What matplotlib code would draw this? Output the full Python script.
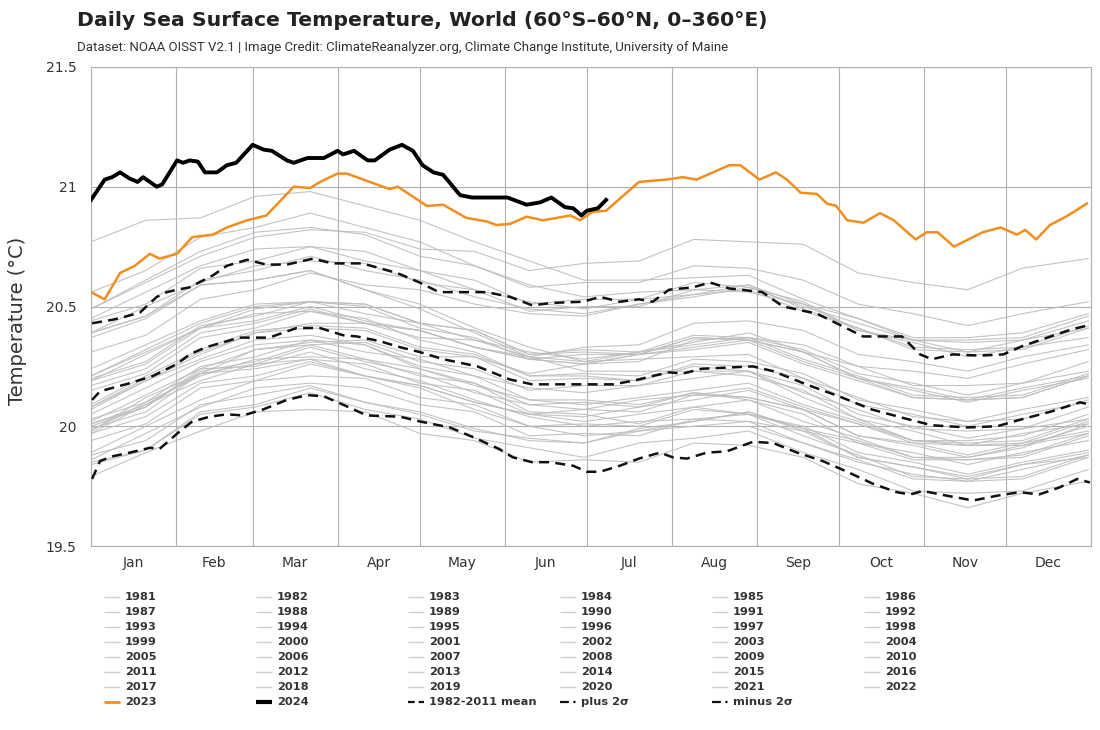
import numpy as np
import matplotlib
matplotlib.use('Agg')
import matplotlib.pyplot as plt
from matplotlib.lines import Line2D

nan = np.nan

# month boundaries / labels (day of year, 0 = Jan 1)
month_starts = [0, 31, 59, 90, 120, 151, 181, 212, 243, 273, 304, 334, 365]
month_names = ['Jan', 'Feb', 'Mar', 'Apr', 'May', 'Jun', 'Jul', 'Aug', 'Sep', 'Oct', 'Nov', 'Dec']

# sample days for the historical (grey) years
gray_days = [0, 20, 40, 60, 80, 100, 120, 140, 160, 180, 200, 220, 240, 260, 280, 300, 320, 340, 364]

sst_1981 = [nan] * 12 + [20.00, 19.93, 19.85, 19.80, 19.77, 19.82, 19.88]
sst_1982 = [19.88, 19.94, 20.09, 20.13, 20.17, 20.10, 20.06, 19.99, 19.94, 19.93, 19.99, 20.02, 20.06, 19.99, 19.94, 19.87, 19.87, 19.91, 20.01]
sst_1983 = [20.08, 20.19, 20.28, 20.36, 20.38, 20.34, 20.24, 20.18, 20.06, 20.05, 20.01, 20.08, 20.05, 19.99, 19.87, 19.83, 19.78, 19.84, 19.87]
sst_1984 = [19.85, 19.90, 20.05, 20.08, 20.14, 20.07, 20.03, 19.95, 19.91, 19.87, 19.93, 19.95, 19.98, 19.89, 19.82, 19.73, 19.72, 19.73, 19.82]
sst_1985 = [19.79, 19.89, 19.98, 20.06, 20.07, 20.06, 19.97, 19.94, 19.85, 19.86, 19.85, 19.93, 19.92, 19.87, 19.76, 19.72, 19.66, 19.72, 19.77]
sst_1986 = [19.84, 19.90, 20.06, 20.09, 20.16, 20.10, 20.05, 19.98, 19.95, 19.93, 19.98, 20.02, 20.06, 19.98, 19.93, 19.86, 19.86, 19.88, 19.97]
sst_1987 = [19.98, 20.12, 20.22, 20.32, 20.34, 20.35, 20.27, 20.24, 20.15, 20.17, 20.17, 20.23, 20.21, 20.15, 20.03, 19.98, 19.92, 19.97, 20.01]
sst_1988 = [20.01, 20.08, 20.24, 20.25, 20.31, 20.24, 20.19, 20.11, 20.04, 20.00, 20.02, 20.03, 20.05, 19.96, 19.88, 19.79, 19.78, 19.79, 19.88]
sst_1989 = [19.86, 19.97, 20.08, 20.16, 20.18, 20.16, 20.09, 20.06, 19.96, 19.97, 19.96, 20.03, 20.02, 19.98, 19.87, 19.83, 19.79, 19.84, 19.89]
sst_1990 = [19.99, 20.06, 20.22, 20.26, 20.33, 20.27, 20.22, 20.14, 20.09, 20.07, 20.11, 20.13, 20.16, 20.08, 20.01, 19.93, 19.92, 19.93, 20.02]
sst_1991 = [19.98, 20.10, 20.21, 20.28, 20.29, 20.28, 20.21, 20.18, 20.09, 20.10, 20.08, 20.14, 20.12, 20.07, 19.96, 19.93, 19.88, 19.93, 19.98]
sst_1992 = [20.01, 20.09, 20.22, 20.24, 20.28, 20.21, 20.16, 20.07, 20.00, 19.96, 19.98, 20.00, 20.02, 19.93, 19.86, 19.78, 19.77, 19.78, 19.87]
sst_1993 = [19.89, 20.00, 20.11, 20.19, 20.21, 20.20, 20.12, 20.09, 20.00, 20.01, 20.00, 20.07, 20.05, 20.00, 19.89, 19.85, 19.80, 19.85, 19.90]
sst_1994 = [19.94, 20.01, 20.16, 20.19, 20.26, 20.21, 20.17, 20.10, 20.05, 20.04, 20.08, 20.11, 20.15, 20.07, 20.01, 19.94, 19.94, 19.96, 20.05]
sst_1995 = [20.05, 20.16, 20.27, 20.34, 20.36, 20.34, 20.25, 20.21, 20.11, 20.11, 20.09, 20.14, 20.11, 20.05, 19.93, 19.89, 19.84, 19.89, 19.94]
sst_1996 = [19.97, 20.04, 20.18, 20.21, 20.27, 20.21, 20.17, 20.10, 20.05, 20.02, 20.05, 20.08, 20.11, 20.02, 19.95, 19.87, 19.86, 19.87, 19.96]
sst_1997 = [20.02, 20.13, 20.24, 20.32, 20.35, 20.36, 20.29, 20.29, 20.22, 20.26, 20.27, 20.36, 20.37, 20.34, 20.25, 20.23, 20.20, 20.26, 20.32]
sst_1998 = [20.37, 20.45, 20.59, 20.61, 20.65, 20.57, 20.49, 20.39, 20.29, 20.23, 20.23, 20.23, 20.23, 20.12, 20.03, 19.94, 19.92, 19.92, 20.00]
sst_1999 = [19.97, 20.09, 20.19, 20.26, 20.28, 20.26, 20.18, 20.15, 20.05, 20.07, 20.06, 20.13, 20.12, 20.07, 19.96, 19.92, 19.87, 19.92, 19.97]
sst_2000 = [20.00, 20.08, 20.23, 20.27, 20.34, 20.28, 20.24, 20.17, 20.11, 20.09, 20.12, 20.15, 20.18, 20.09, 20.02, 19.94, 19.93, 19.94, 20.03]
sst_2001 = [20.09, 20.21, 20.32, 20.40, 20.42, 20.41, 20.33, 20.30, 20.21, 20.22, 20.21, 20.28, 20.27, 20.22, 20.11, 20.07, 20.02, 20.07, 20.12]
sst_2002 = [20.17, 20.24, 20.39, 20.43, 20.49, 20.43, 20.40, 20.33, 20.28, 20.26, 20.30, 20.33, 20.36, 20.27, 20.20, 20.12, 20.11, 20.12, 20.21]
sst_2003 = [20.24, 20.34, 20.44, 20.51, 20.52, 20.50, 20.41, 20.37, 20.28, 20.30, 20.30, 20.37, 20.36, 20.31, 20.20, 20.16, 20.11, 20.16, 20.21]
sst_2004 = [20.19, 20.26, 20.41, 20.44, 20.50, 20.44, 20.40, 20.33, 20.28, 20.26, 20.30, 20.32, 20.35, 20.26, 20.19, 20.12, 20.11, 20.12, 20.21]
sst_2005 = [20.19, 20.30, 20.41, 20.49, 20.52, 20.51, 20.43, 20.40, 20.30, 20.31, 20.30, 20.37, 20.36, 20.31, 20.20, 20.15, 20.10, 20.15, 20.20]
sst_2006 = [20.15, 20.22, 20.37, 20.41, 20.48, 20.43, 20.40, 20.33, 20.29, 20.27, 20.31, 20.35, 20.39, 20.31, 20.25, 20.17, 20.17, 20.18, 20.27]
sst_2007 = [20.21, 20.31, 20.41, 20.47, 20.48, 20.45, 20.36, 20.31, 20.21, 20.21, 20.19, 20.25, 20.23, 20.17, 20.05, 20.00, 19.95, 19.99, 20.03]
sst_2008 = [20.03, 20.10, 20.25, 20.29, 20.36, 20.31, 20.28, 20.21, 20.16, 20.14, 20.17, 20.20, 20.23, 20.14, 20.07, 19.99, 19.98, 19.99, 20.08]
sst_2009 = [20.07, 20.19, 20.30, 20.39, 20.43, 20.43, 20.37, 20.36, 20.29, 20.33, 20.34, 20.43, 20.44, 20.40, 20.30, 20.27, 20.23, 20.29, 20.34]
sst_2010 = [20.39, 20.46, 20.59, 20.61, 20.65, 20.57, 20.51, 20.41, 20.33, 20.27, 20.28, 20.29, 20.30, 20.20, 20.12, 20.04, 20.02, 20.03, 20.11]
sst_2011 = [20.08, 20.20, 20.31, 20.39, 20.41, 20.40, 20.32, 20.29, 20.19, 20.20, 20.19, 20.26, 20.25, 20.20, 20.09, 20.05, 20.00, 20.05, 20.10]
sst_2012 = [20.20, 20.27, 20.42, 20.46, 20.52, 20.47, 20.43, 20.36, 20.31, 20.28, 20.31, 20.34, 20.37, 20.28, 20.21, 20.13, 20.12, 20.13, 20.22]
sst_2013 = [20.21, 20.32, 20.43, 20.50, 20.52, 20.51, 20.43, 20.40, 20.30, 20.32, 20.31, 20.38, 20.37, 20.32, 20.22, 20.18, 20.13, 20.18, 20.23]
sst_2014 = [20.31, 20.38, 20.53, 20.57, 20.64, 20.59, 20.57, 20.51, 20.47, 20.46, 20.51, 20.55, 20.59, 20.51, 20.45, 20.37, 20.37, 20.39, 20.47]
sst_2015 = [20.49, 20.60, 20.71, 20.79, 20.82, 20.81, 20.74, 20.73, 20.65, 20.68, 20.69, 20.78, 20.77, 20.76, 20.64, 20.60, 20.57, 20.66, 20.70]
sst_2016 = [20.77, 20.86, 20.87, 20.96, 20.98, 20.92, 20.86, 20.77, 20.69, 20.61, 20.61, 20.62, 20.63, 20.53, 20.45, 20.36, 20.35, 20.36, 20.44]
sst_2017 = [20.45, 20.56, 20.67, 20.74, 20.75, 20.73, 20.65, 20.61, 20.51, 20.53, 20.53, 20.60, 20.58, 20.52, 20.40, 20.35, 20.29, 20.33, 20.37]
sst_2018 = [20.39, 20.46, 20.61, 20.65, 20.71, 20.65, 20.61, 20.54, 20.49, 20.47, 20.51, 20.54, 20.58, 20.50, 20.43, 20.36, 20.36, 20.37, 20.46]
sst_2019 = [20.49, 20.61, 20.73, 20.81, 20.83, 20.80, 20.71, 20.67, 20.58, 20.60, 20.60, 20.67, 20.66, 20.61, 20.51, 20.47, 20.42, 20.47, 20.52]
sst_2020 = [20.56, 20.65, 20.79, 20.83, 20.89, 20.83, 20.77, 20.67, 20.59, 20.54, 20.56, 20.57, 20.59, 20.49, 20.41, 20.32, 20.31, 20.32, 20.41]
sst_2021 = [20.39, 20.50, 20.60, 20.67, 20.69, 20.68, 20.60, 20.57, 20.48, 20.50, 20.50, 20.57, 20.56, 20.51, 20.40, 20.36, 20.31, 20.36, 20.41]
sst_2022 = [20.44, 20.51, 20.66, 20.69, 20.75, 20.69, 20.65, 20.57, 20.52, 20.49, 20.53, 20.55, 20.57, 20.48, 20.41, 20.33, 20.32, 20.33, 20.42]

gray_years = list(range(1981, 2023))
gray_series = [globals()['sst_%d' % y] for y in gray_years]

days_2023 = [0, 5, 10.6, 16, 21.5, 25, 31.4, 37, 44.5, 49.6, 57, 64, 74, 80, 83.6, 90, 93.4, 109, 112, 116,
             122.6, 128.5, 137, 144.5, 148, 153, 159, 165, 175, 178.5, 183, 188, 198, 200, 210, 216, 221, 233,
             237, 244, 250, 254, 259, 265, 268.6, 272, 276, 282, 288, 293, 301, 305, 309, 315, 322, 325.5, 332,
             338, 341, 345, 350, 355, 358, 363.5]
sst_2023 = [20.56, 20.53, 20.64, 20.67, 20.72, 20.70, 20.72, 20.79, 20.80, 20.83, 20.86, 20.88, 21.00, 20.995,
            21.02, 21.055, 21.055, 20.99, 21.00, 20.97, 20.92, 20.925, 20.87, 20.855, 20.84, 20.845, 20.875,
            20.86, 20.88, 20.86, 20.895, 20.90, 21.00, 21.02, 21.03, 21.04, 21.03, 21.09, 21.09, 21.03, 21.06,
            21.03, 20.975, 20.97, 20.93, 20.92, 20.86, 20.85, 20.89, 20.86, 20.78, 20.81, 20.81, 20.75, 20.79,
            20.81, 20.83, 20.80, 20.82, 20.78, 20.84, 20.87, 20.89, 20.93]

days_2024 = [0, 5, 7.7, 10.6, 14, 17, 19, 24, 26, 31.4, 33.6, 36, 39, 41.6, 46, 49.6, 53, 59, 63, 66, 71.5, 74,
             79, 85, 90, 92, 96, 101, 103.6, 109, 113.5, 117.5, 121, 125, 128.5, 134.7, 139, 152, 159, 164, 168,
             173, 176, 179, 181, 185, 188]
sst_2024 = [20.945, 21.03, 21.04, 21.06, 21.035, 21.02, 21.04, 21.00, 21.01, 21.11, 21.10, 21.11, 21.105, 21.06,
            21.06, 21.09, 21.10, 21.175, 21.155, 21.15, 21.11, 21.10, 21.12, 21.12, 21.15, 21.135, 21.15, 21.11,
            21.11, 21.155, 21.175, 21.15, 21.09, 21.06, 21.05, 20.965, 20.955, 20.955, 20.925, 20.935, 20.955,
            20.915, 20.91, 20.88, 20.90, 20.91, 20.945]

days_mean = [0.4, 3.3, 14.2, 22.6, 31.4, 36, 42, 49.6, 54, 65, 75, 83.6, 92, 97, 105.5, 112.8, 120, 128.5, 141,
             153, 161, 190.5, 198, 205, 211, 216, 223, 241.6, 249, 261, 273, 285, 298, 307, 320, 330.7, 340, 350,
             361, 364.6]
sst_mean = [20.11, 20.146, 20.18, 20.21, 20.26, 20.30, 20.33, 20.355, 20.37, 20.37, 20.41, 20.41, 20.38, 20.375,
            20.355, 20.33, 20.31, 20.28, 20.25, 20.195, 20.175, 20.175, 20.19, 20.21, 20.225, 20.22, 20.24, 20.25,
            20.23, 20.175, 20.125, 20.07, 20.03, 20.004, 19.995, 20.0, 20.03, 20.06, 20.10, 20.09]

days_plus = [0.4, 8, 11.7, 17.9, 24, 27.7, 31.4, 36, 44.5, 49.6, 57, 64, 71.5, 81, 88, 99, 111.7, 120, 127, 144.5,
             153, 161, 168.6, 179.6, 185.8, 193, 200, 205, 211, 219.7, 226, 233, 245, 252.6, 265, 273, 281.8, 296,
             302.6, 307, 314.6, 324.5, 333, 340, 349, 358, 363.5]
sst_plus = [20.43, 20.445, 20.455, 20.475, 20.54, 20.56, 20.57, 20.58, 20.63, 20.67, 20.695, 20.675, 20.675, 20.70,
            20.68, 20.68, 20.64, 20.60, 20.56, 20.56, 20.54, 20.505, 20.515, 20.52, 20.54, 20.52, 20.53, 20.52,
            20.57, 20.58, 20.60, 20.575, 20.56, 20.50, 20.47, 20.425, 20.375, 20.375, 20.30, 20.28, 20.30, 20.295,
            20.30, 20.335, 20.37, 20.405, 20.42]

days_minus = [0.4, 3.3, 8, 14.2, 21.5, 25, 32.5, 37, 43.4, 49.6, 55.5, 62.8, 71.5, 79, 85, 92, 100.7, 112.8, 120,
              131, 139.4, 149, 154, 161, 167.5, 176, 181, 185.8, 193, 200, 207.7, 212.4, 217.5, 224.8, 232, 241.6,
              249, 257.7, 267, 276, 285.4, 294, 299, 303.6, 312.4, 322, 330.7, 339, 346, 353.6, 360, 364.6]
sst_minus = [19.78, 19.855, 19.875, 19.89, 19.91, 19.905, 19.98, 20.02, 20.04, 20.05, 20.045, 20.07, 20.11, 20.13,
             20.125, 20.09, 20.045, 20.04, 20.02, 19.995, 19.955, 19.905, 19.87, 19.85, 19.85, 19.835, 19.81, 19.81,
             19.835, 19.865, 19.89, 19.87, 19.865, 19.89, 19.895, 19.935, 19.93, 19.89, 19.855, 19.81, 19.76,
             19.725, 19.715, 19.73, 19.71, 19.69, 19.71, 19.725, 19.715, 19.745, 19.78, 19.765]

ORANGE = '#f28e1e'
GRAY = '#bdbdbd'
TXT = '#333333'
GRID = '#b0b0b0'

W, H = 1100, 730
fig = plt.figure(figsize=(W / 100, H / 100), dpi=100)
ax = fig.add_axes([91 / W, 1 - 546 / H, 1000 / W, 479 / H])

# historical years
for vals in gray_series:
    ax.plot(gray_days, vals, color=GRAY, lw=0.8, alpha=0.9, zorder=2)

# climatology lines
ax.plot(days_mean, sst_mean, color='#111111', lw=1.8, dashes=(4, 2.5), zorder=3)
ax.plot(days_plus, sst_plus, color='#111111', lw=1.8, dashes=(4, 2.5), zorder=3)
ax.plot(days_minus, sst_minus, color='#111111', lw=1.8, dashes=(4, 2.5), zorder=3)

ax.plot(days_2023, sst_2023, color=ORANGE, lw=1.8, zorder=4)
ax.plot(days_2024, sst_2024, color='black', lw=2.8, zorder=5)

ax.set_xlim(0, 365)
ax.set_ylim(19.5, 21.5)
ax.set_xticks(month_starts)
ax.set_xticklabels([])
mids = [(month_starts[i] + month_starts[i + 1]) / 2 for i in range(12)]
ax.set_xticks(mids, minor=True)
ax.set_xticklabels(month_names, minor=True)
ax.tick_params(axis='x', which='both', length=0, pad=7, labelsize=10, labelcolor=TXT)
ax.set_yticks([19.5, 20, 20.5, 21, 21.5])
ax.set_yticklabels(['19.5', '20', '20.5', '21', '21.5'])
ax.tick_params(axis='y', length=0, pad=10.5, labelsize=10, labelcolor=TXT)
ax.grid(True, which='major', color=GRID, lw=0.8, zorder=1)
for s in ax.spines.values():
    s.set_color(GRID)
    s.set_linewidth(0.8)

fig.text(18 / W, 1 - 321 / H, 'Temperature (°C)', rotation=90, ha='center', va='center',
         fontsize=14, color=TXT)

fig.text(77 / W, 1 - 20 / H, 'Daily Sea Surface Temperature, World (60°S–60°N, 0–360°E)',
         ha='left', va='center', fontsize=14.7, fontweight='bold', color='#222222')
fig.text(77 / W, 1 - 47 / H,
         'Dataset: NOAA OISST V2.1 | Image Credit: ClimateReanalyzer.org, Climate Change Institute, University of Maine',
         ha='left', va='center', fontsize=9.5, color=TXT, family=['Roboto', 'DejaVu Sans'])

# legend, laid out row by row like the original
legend_items = [(str(y), dict(color='#cfcfcf', lw=1.0)) for y in gray_years]
legend_items += [
    ('2023', dict(color=ORANGE, lw=2.0)),
    ('2024', dict(color='black', lw=3.0)),
    ('1982-2011 mean', dict(color='#111111', lw=1.6, dashes=(3, 1.8))),
    ('plus 2σ', dict(color='#111111', lw=1.6, dashes=(4, 2, 1, 2))),
    ('minus 2σ', dict(color='#111111', lw=1.6, dashes=(4, 2, 1, 2))),
]
for i, (lab, style) in enumerate(legend_items):
    row, col = divmod(i, 6)
    x0 = 104 + col * 152
    y = 597 + row * 15
    fig.add_artist(Line2D([x0 / W, (x0 + 16) / W], [1 - y / H, 1 - y / H],
                          transform=fig.transFigure, solid_capstyle='butt', **style))
    fig.text((x0 + 21) / W, 1 - y / H, lab, ha='left', va='center', fontsize=8.2,
             fontweight='bold', color=TXT)

fig.savefig('out.png', dpi=100)
